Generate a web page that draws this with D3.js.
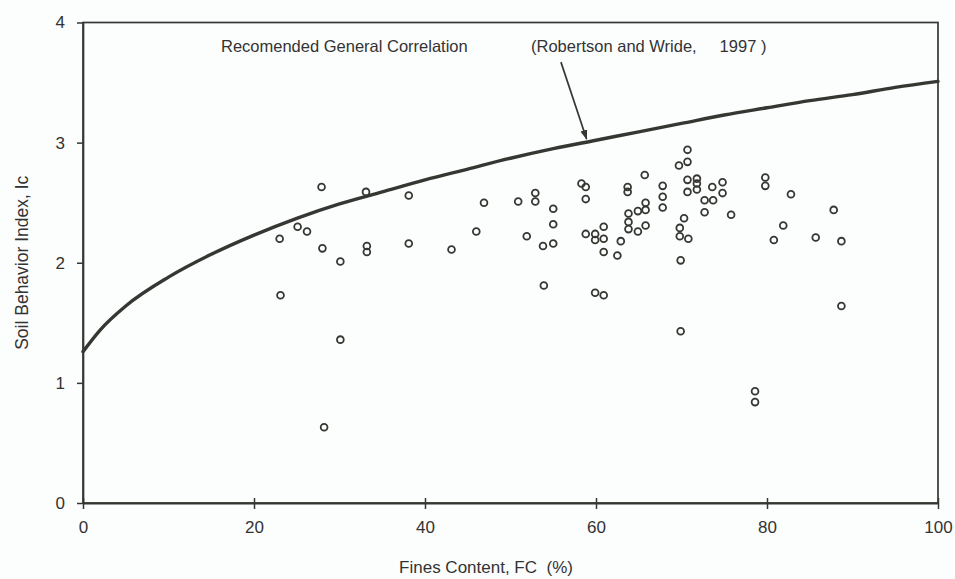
<!DOCTYPE html>
<html>
<head>
<meta charset="utf-8">
<script src="https://cdn.jsdelivr.net/npm/d3@7/dist/d3.min.js"></script>
<style>
  html, body { margin: 0; padding: 0; background: #fcfdfd; }
  svg { display: block; }
  text { font-family: "Liberation Sans", Arial, sans-serif; fill: #333; white-space: pre; }
</style>
</head>
<body>
<svg id="chart" width="955" height="579"></svg>
<script>
// Measured soundings: fines content (%) and soil behaviour index Ic
const finesContent = [
  27.9, 33.1, 38.1, 25.1, 26.2, 23.0, 28.0, 33.2, 33.2, 38.1,
  30.1, 23.1, 30.1, 28.2, 43.1, 46.0, 46.9, 50.9, 52.9, 52.9,
  51.9, 53.8, 55.0, 53.9, 55.0, 55.0, 58.3, 58.8, 58.8, 58.8,
  59.9, 59.9, 60.9, 60.9, 62.9, 60.9, 62.5, 59.9, 60.9, 63.7,
  63.7, 63.8, 63.8, 63.8, 64.9, 64.9, 65.8, 65.8, 65.8, 65.7,
  67.8, 67.8, 67.8, 69.7, 70.7, 70.7, 70.7, 70.7, 71.8, 71.8,
  71.8, 70.3, 69.8, 69.8, 70.8, 69.9, 69.9, 72.7, 73.7, 72.7,
  73.6, 74.8, 74.8, 75.8, 79.8, 79.8, 82.8, 87.8, 81.9, 80.8,
  85.7, 88.7, 88.7, 78.6, 78.6
];
const behaviourIndex = [
  2.63, 2.59, 2.56, 2.30, 2.26, 2.20, 2.12, 2.14, 2.09, 2.16,
  2.01, 1.73, 1.36, 0.63, 2.11, 2.26, 2.50, 2.51, 2.58, 2.51,
  2.22, 2.14, 2.16, 1.81, 2.45, 2.32, 2.66, 2.63, 2.53, 2.24,
  2.24, 2.19, 2.30, 2.20, 2.18, 2.09, 2.06, 1.75, 1.73, 2.63,
  2.59, 2.41, 2.34, 2.28, 2.43, 2.26, 2.50, 2.44, 2.31, 2.73,
  2.64, 2.55, 2.46, 2.81, 2.94, 2.84, 2.69, 2.59, 2.70, 2.66,
  2.61, 2.37, 2.29, 2.22, 2.20, 2.02, 1.43, 2.52, 2.52, 2.42,
  2.63, 2.67, 2.58, 2.40, 2.71, 2.64, 2.57, 2.44, 2.31, 2.19,
  2.21, 2.18, 1.64, 0.93, 0.84
];

// Recommended general correlation curve (Robertson and Wride, 1997)
const curveFC = [0, 2, 5, 10, 15, 20, 25, 30, 35, 40, 45, 50, 55, 60, 65, 70, 75, 80, 85, 90, 95, 100];
const curveIc = [1.26, 1.44, 1.64, 1.88, 2.07, 2.23, 2.37, 2.49, 2.59, 2.69, 2.78, 2.87, 2.95, 3.02,
                 3.09, 3.16, 3.23, 3.29, 3.35, 3.40, 3.46, 3.51];

const xTicks = [0, 20, 40, 60, 80, 100];
const yTicks = [0, 1, 2, 3, 4];

const xTitle = "Fines Content, FC  (%)";
const yTitle = "Soil Behavior Index, Ic";
const curveLabel = "Recomended General Correlation";
const curveSource = "(Robertson and Wride,     1997 )";

const ink = "#363632";
const font = "'Liberation Sans', Arial, sans-serif";

const svg = d3.select("#chart");

const x = d3.scaleLinear().domain([0, 100]).range([83, 938]);
const y = d3.scaleLinear().domain([0, 4]).range([503, 22.5]);

// plot frame
svg.append("rect")
  .attr("x", x(0)).attr("y", y(4))
  .attr("width", x(100) - x(0)).attr("height", y(0) - y(4))
  .attr("fill", "none").attr("stroke", ink).attr("stroke-width", 1.7);

// axes
const xAxis = svg.append("g")
  .attr("transform", `translate(0,${y(0)})`)
  .call(d3.axisBottom(x).tickValues(xTicks).tickSize(6).tickSizeOuter(0).tickPadding(12).tickFormat(d3.format("d")));
xAxis.select(".domain").attr("stroke", ink).attr("stroke-width", 2.2);
xAxis.selectAll(".tick line").attr("stroke", ink).attr("stroke-width", 1.5).attr("y1", -5);
xAxis.selectAll(".tick text")
  .attr("font-size", 17).attr("fill", "#333").attr("font-family", font);

const yAxis = svg.append("g")
  .attr("transform", `translate(${x(0)},0)`)
  .call(d3.axisLeft(y).tickValues(yTicks).tickSize(6).tickSizeOuter(0).tickPadding(12).tickFormat(d3.format("d")));
yAxis.select(".domain").attr("stroke", ink).attr("stroke-width", 1.7);
yAxis.selectAll(".tick line").attr("stroke", ink).attr("stroke-width", 1.5);
yAxis.selectAll(".tick text")
  .attr("font-size", 17).attr("fill", "#333").attr("font-family", font);

// correlation curve
const curvePts = curveFC.map((d, i) => [d, curveIc[i]]);
svg.append("path")
  .datum(curvePts)
  .attr("d", d3.line().x(d => x(d[0])).y(d => y(d[1])).curve(d3.curveMonotoneX))
  .attr("fill", "none").attr("stroke", ink).attr("stroke-width", 3.4)
  .attr("stroke-linecap", "round");

// data points
const pts = finesContent.map((d, i) => ({ fc: d, ic: behaviourIndex[i] }));
svg.append("g").selectAll("circle")
  .data(pts).join("circle")
  .attr("cx", d => x(d.fc)).attr("cy", d => y(d.ic))
  .attr("r", 3.4)
  .attr("fill", "none").attr("stroke", ink).attr("stroke-width", 1.8);

// annotation
svg.append("text").attr("x", 221).attr("y", 52).attr("font-size", 16.5).text(curveLabel);
svg.append("text").attr("x", 531).attr("y", 52).attr("font-size", 16.5).text(curveSource);

const arrowFrom = [55.9, 3.67];
const arrowTo = [58.9, 3.03];
svg.append("defs").append("marker")
  .attr("id", "head").attr("viewBox", "0 0 10 10")
  .attr("refX", 9).attr("refY", 5)
  .attr("markerWidth", 10).attr("markerHeight", 10)
  .attr("markerUnits", "userSpaceOnUse")
  .attr("orient", "auto")
  .append("path").attr("d", "M0,1.5 L10,5 L0,8.5 Z").attr("fill", ink);
svg.append("line")
  .attr("x1", x(arrowFrom[0])).attr("y1", y(arrowFrom[1]))
  .attr("x2", x(arrowTo[0])).attr("y2", y(arrowTo[1]))
  .attr("stroke", ink).attr("stroke-width", 1.7)
  .attr("marker-end", "url(#head)");

// axis titles
svg.append("text")
  .attr("x", 486).attr("y", 573)
  .attr("text-anchor", "middle").attr("font-size", 17).text(xTitle);
svg.append("text")
  .attr("transform", `translate(28,${(y(0) + y(4)) / 2}) rotate(-90)`)
  .attr("text-anchor", "middle").attr("font-size", 17.5).text(yTitle);
</script>
</body>
</html>
